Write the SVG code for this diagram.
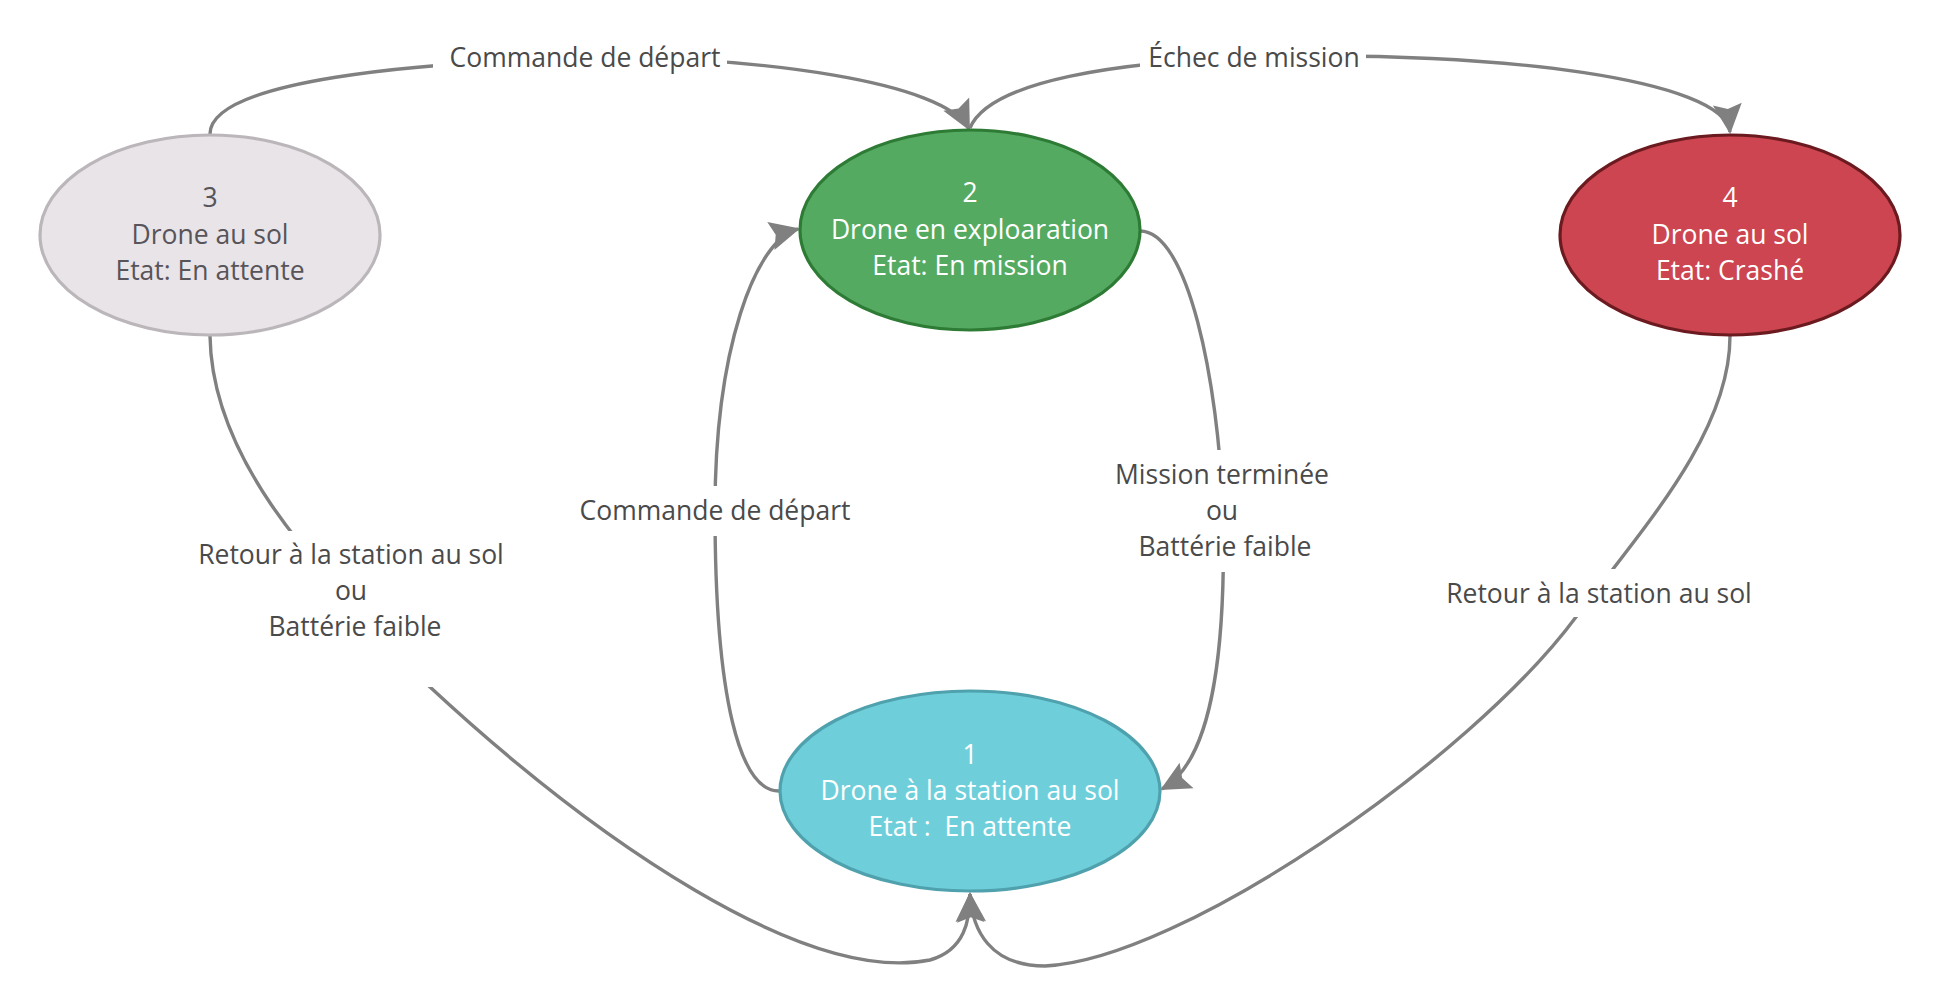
<svg xmlns="http://www.w3.org/2000/svg" width="1940" height="1007" viewBox="0 0 1940 1007">
<style>
text { font-family: "Open Sans", "Noto Sans", "DejaVu Sans", sans-serif; font-size: 26.5px; text-anchor: middle; white-space: pre; }
.lbl { fill: #4a4a4a; }
.lblbg { fill: #ffffff; stroke: none; }
.edge { fill: none; stroke: #808080; stroke-width: 3.4; }
.arrow { marker-end: url(#arr); }
.wt { fill: #ffffff; }
.gt { fill: #57545a; }
</style>
<defs>
<marker id="arr" markerUnits="userSpaceOnUse" markerWidth="36" markerHeight="34" viewBox="-32 -17 36 34" refX="0" refY="0" orient="auto">
<path d="M2,0 L-28,-14.5 L-23,0 L-28,14.5 Z" fill="#808080"/>
</marker>
</defs>
<rect width="1940" height="1007" fill="#ffffff"/>

<g id="connectors">
<path id="e-3-2" class="edge arrow" d="M210,134 C210,80 420,62 585,58 C760,56 945,82 969,129"/>
<path id="e-2-4" class="edge arrow" d="M970,128 C990,80 1120,62 1254,57 C1500,50 1725,80 1730,132"/>
<path id="e-2-1" class="edge arrow" d="M1140,231 C1188,231 1218,380 1223,510 C1226,640 1215,760 1162,789"/>
<path id="e-1-2" class="edge arrow" d="M779,791 C740,791 715,700 715,510 C715,350 755,240 798,229"/>
<path id="e-3-1" class="edge arrow" d="M210,336 C212,470 330,580 430,687 C595,840 805,985 930,960 C965,950 970,920 970,894"/>
<path id="e-4-1" class="edge arrow" d="M1730,336 C1730,430 1650,520 1576,617 C1470,760 1180,960 1045,966 C990,966 972,930 970,894"/>

<g id="edge-labels">
<rect class="lblbg" x="433" y="38" width="294" height="40"/>
<text class="lbl" x="585" y="67">Commande de départ</text>
<rect class="lblbg" x="1140" y="38" width="226" height="40"/>
<text class="lbl" x="1254" y="67">Échec de mission</text>
<rect class="lblbg" x="1100" y="450" width="245" height="122"/>
<text class="lbl" x="1222" y="484">Mission terminée</text>
<text class="lbl" x="1222" y="520">ou</text>
<text class="lbl" x="1225" y="556">Battérie faible</text>
<rect class="lblbg" x="570" y="486" width="290" height="50"/>
<text class="lbl" x="715" y="520">Commande de départ</text>
<rect class="lblbg" x="190" y="531" width="320" height="156"/>
<text class="lbl" x="351" y="564">Retour à la station au sol</text>
<text class="lbl" x="351" y="600">ou</text>
<text class="lbl" x="355" y="636">Battérie faible</text>
<rect class="lblbg" x="1440" y="569" width="320" height="48"/>
<text class="lbl" x="1599" y="603">Retour à la station au sol</text>
</g>
</g>

<g id="node-3">
<ellipse cx="210" cy="235" rx="170" ry="100" fill="#e8e4e8" stroke="#bab6ba" stroke-width="3.2"/>
<text class="gt" x="210" y="207">3</text>
<text class="gt" x="210" y="244">Drone au sol</text>
<text class="gt" x="210" y="280">Etat: En attente</text>
</g>

<g id="node-2">
<ellipse cx="970" cy="230" rx="170" ry="100" fill="#55aa62" stroke="#2e7b35" stroke-width="3.2"/>
<text class="wt" x="970" y="202">2</text>
<text class="wt" x="970" y="239">Drone en exploaration</text>
<text class="wt" x="970" y="275">Etat: En mission</text>
</g>

<g id="node-4">
<ellipse cx="1730" cy="235" rx="170" ry="100" fill="#cc4550" stroke="#6b1a1f" stroke-width="3.2"/>
<text class="wt" x="1730" y="207">4</text>
<text class="wt" x="1730" y="244">Drone au sol</text>
<text class="wt" x="1730" y="280">Etat: Crashé</text>
</g>

<g id="node-1">
<ellipse cx="970" cy="791" rx="190" ry="100" fill="#6ecfdb" stroke="#4fa2ad" stroke-width="3.2"/>
<text class="wt" x="970" y="764">1</text>
<text class="wt" x="970" y="800">Drone à la station au sol</text>
<text class="wt" x="970" y="836">Etat :  En attente</text>
</g>
</svg>
